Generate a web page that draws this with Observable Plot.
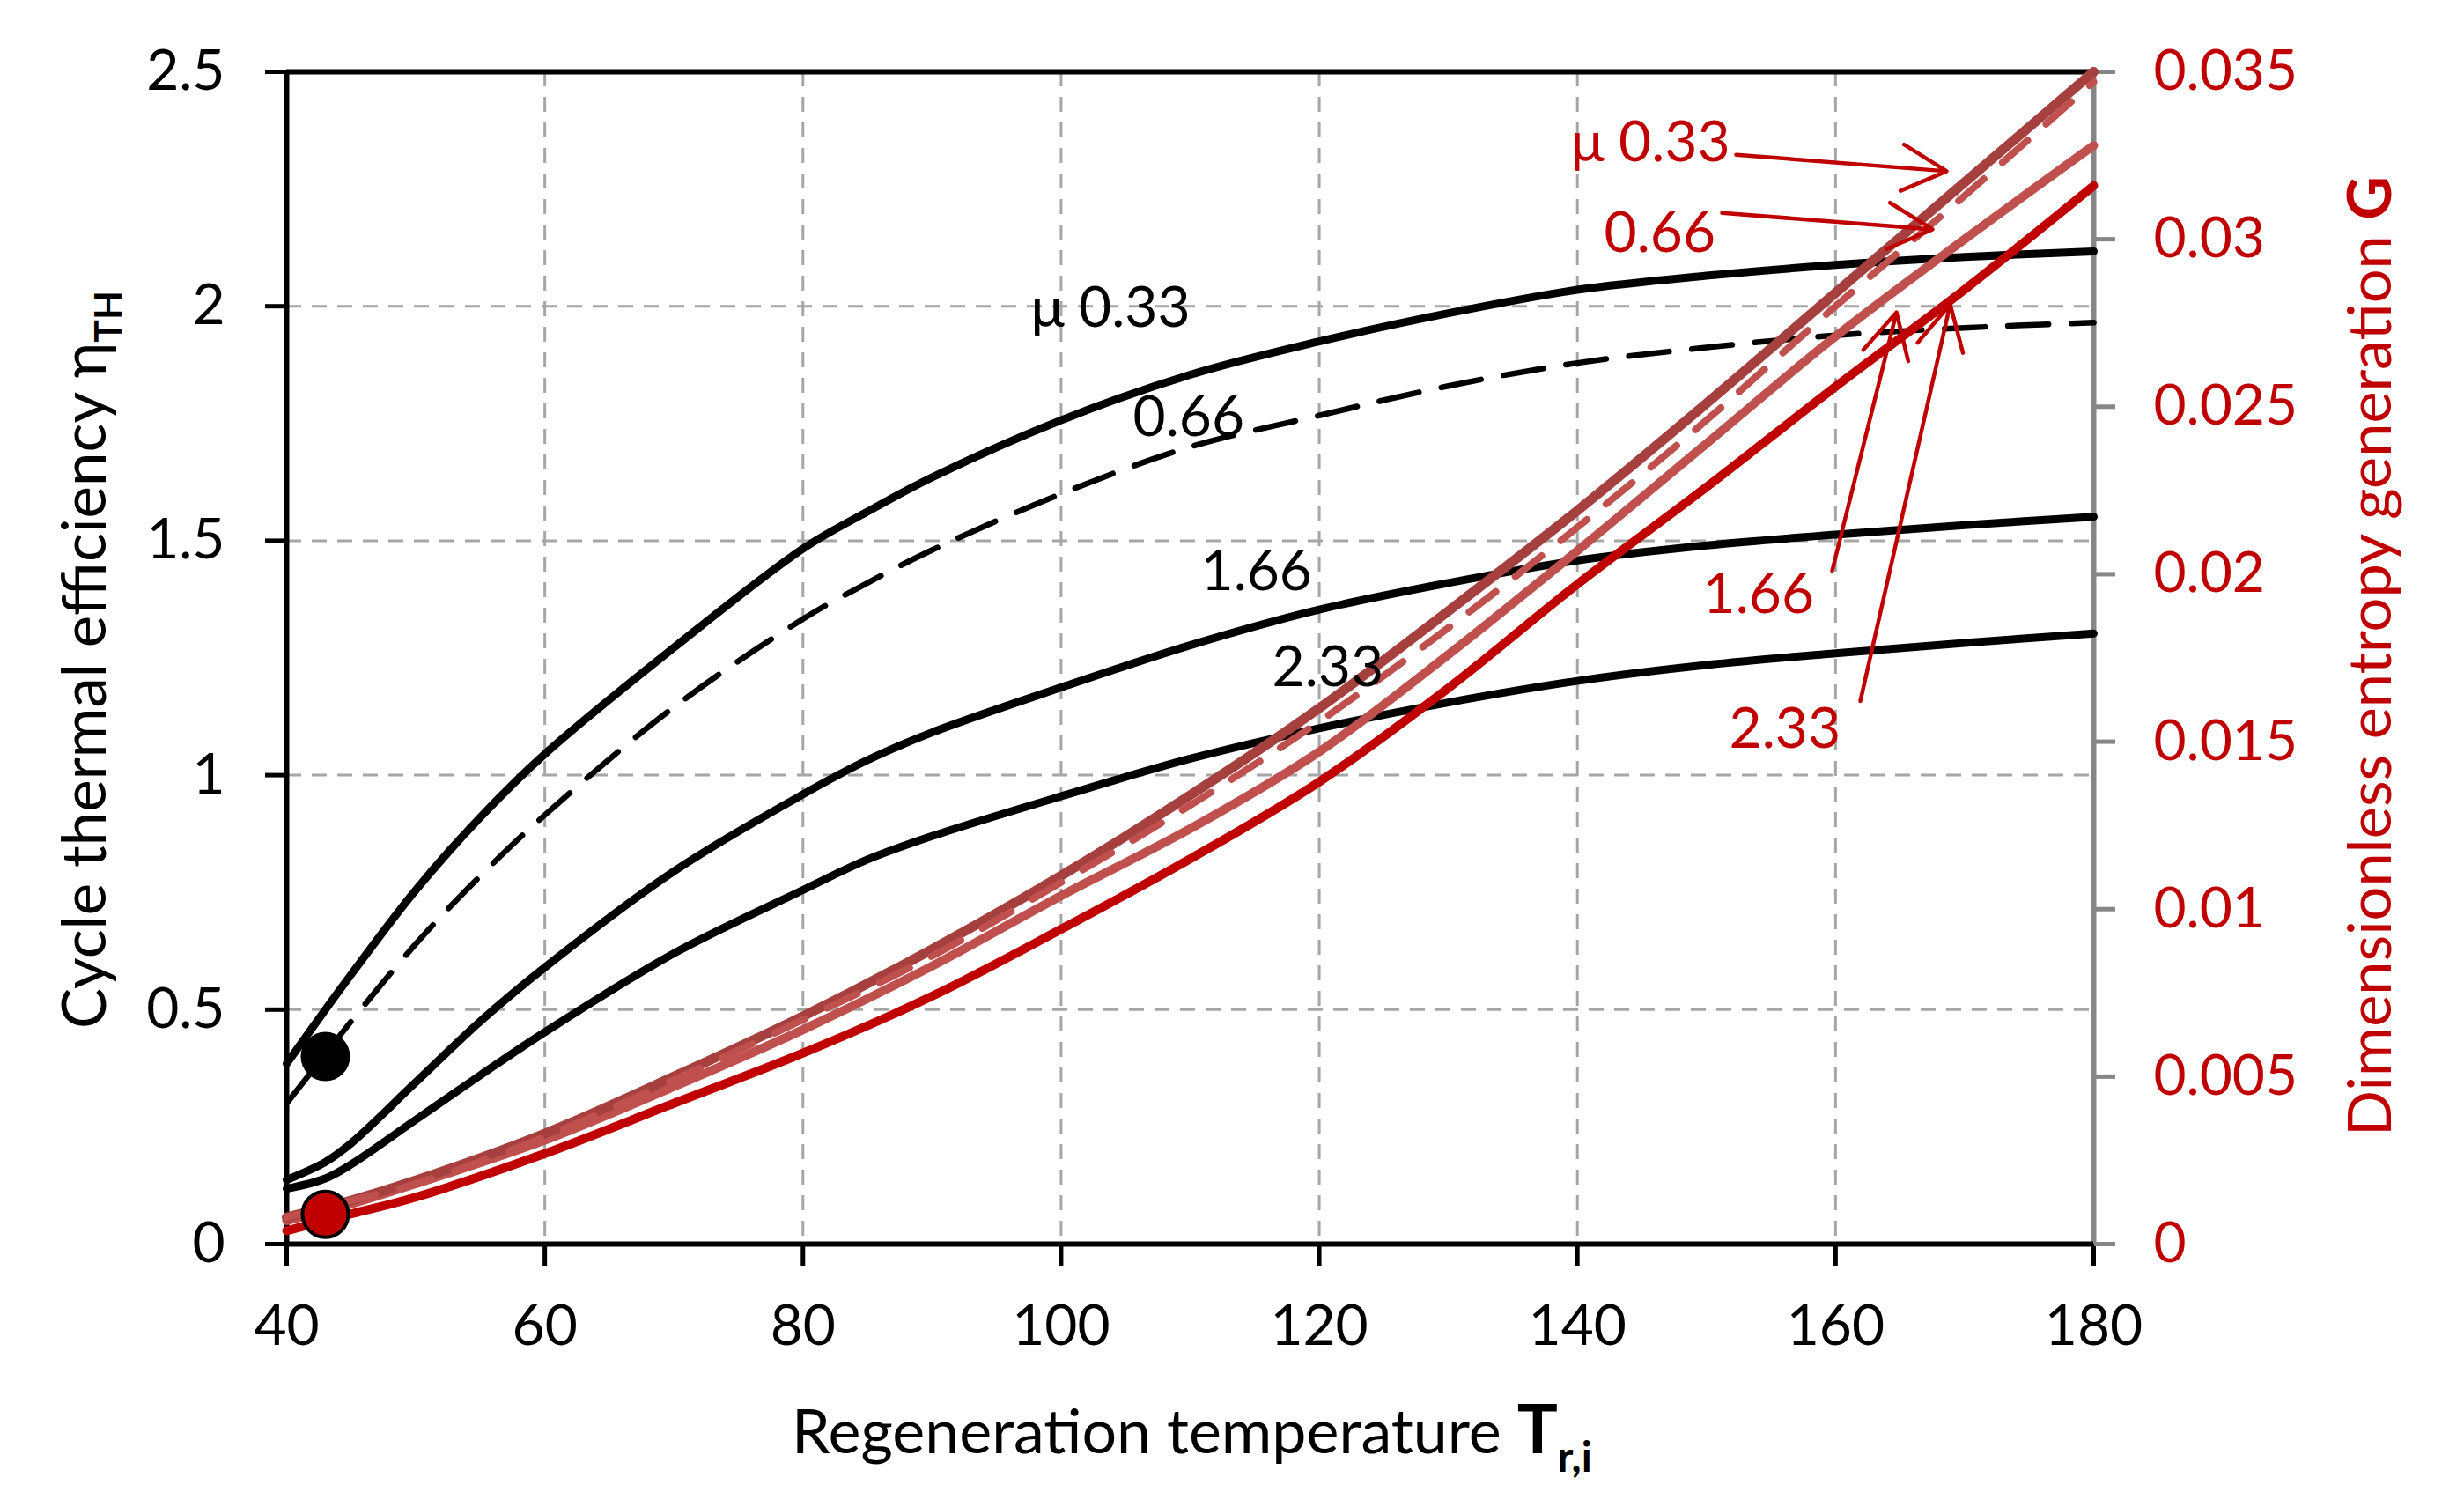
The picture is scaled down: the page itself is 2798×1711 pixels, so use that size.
<!DOCTYPE html>
<html>
<head>
<meta charset="utf-8">
<script src="https://cdn.jsdelivr.net/npm/d3@7"></script>
<script src="https://cdn.jsdelivr.net/npm/@observablehq/plot@0.6"></script>
<style>
  html, body { margin: 0; padding: 0; background: #fff; }
  #chart svg { display: block; }
</style>
</head>
<body>
<div id="chart"></div>
<script>
// ---------- data ----------
const xTicks = [40, 60, 80, 100, 120, 140, 160, 180];
const etaTicks = [0, 0.5, 1, 1.5, 2, 2.5];
const gTicks = [0, 0.005, 0.01, 0.015, 0.02, 0.025, 0.03, 0.035];
const gTickLabels = ["0", "0.005", "0.01", "0.015", "0.02", "0.025", "0.03", "0.035"];

// cycle thermal efficiency (left axis)
const blackT = [40, 43, 45, 50, 55, 60, 70, 80, 85, 90, 100, 110, 120, 130, 140, 150, 160, 170, 180];
const eta033 = [0.385, 0.50, 0.575, 0.755, 0.91, 1.045, 1.272, 1.483, 1.562, 1.635, 1.757, 1.854, 1.925, 1.985, 2.035, 2.065, 2.088, 2.105, 2.117];
const eta066 = [0.30, 0.405, 0.475, 0.64, 0.785, 0.915, 1.145, 1.333, 1.41, 1.48, 1.60, 1.70, 1.767, 1.83, 1.879, 1.912, 1.938, 1.954, 1.965];
const eta166 = [0.137, 0.175, 0.215, 0.345, 0.475, 0.59, 0.795, 0.959, 1.032, 1.091, 1.187, 1.277, 1.353, 1.41, 1.458, 1.49, 1.513, 1.533, 1.551];
const eta233 = [0.118, 0.14, 0.17, 0.265, 0.36, 0.452, 0.62, 0.755, 0.82, 0.87, 0.955, 1.035, 1.10, 1.155, 1.201, 1.235, 1.26, 1.282, 1.302];

// dimensionless entropy generation (right axis)
const redT = [40, 45, 50, 60, 70, 80, 90, 100, 110, 120, 130, 140, 150, 160, 170, 180];
const g033 = [0.0008, 0.0013, 0.0019, 0.0033, 0.0050, 0.0068, 0.0088, 0.0110, 0.0134, 0.0160, 0.0189, 0.0219, 0.0251, 0.0284, 0.0317, 0.0350];
const g066 = [0.0008, 0.0013, 0.0018, 0.0032, 0.0049, 0.0067, 0.0086, 0.0108, 0.0131, 0.0156, 0.0184, 0.0214, 0.0246, 0.0280, 0.0313, 0.0347];
const g166 = [0.0007, 0.0012, 0.0018, 0.0031, 0.0047, 0.0064, 0.0083, 0.0104, 0.0124, 0.0147, 0.0176, 0.0207, 0.0239, 0.0271, 0.0300, 0.0328];
const g233 = [0.0004, 0.0009, 0.0014, 0.0027, 0.0042, 0.0057, 0.0074, 0.0094, 0.0115, 0.0138, 0.0166, 0.0197, 0.0226, 0.0256, 0.0285, 0.0316];

// highlighted points
const blackDotT = [43], blackDotEta = [0.40];
const redDotT = [43], redDotG = [0.00089];

// in-plot labels
const labelText = ["μ 0.33", "0.66", "1.66", "2.33"];
const blackLabelT = [97.65, 105.57, 110.82, 116.35];
const blackLabelEta = [1.957, 1.724, 1.395, 1.190];
const redLabelT = [139.47, 142.07, 149.71, 151.76];
const redLabelEta = [2.310, 2.115, 1.346, 1.058];

// arrows for the red labels
const arrowFromT = [152.30, 151.21, 159.74, 161.92];
const arrowFromEta = [2.323, 2.199, 1.436, 1.158];
const arrowToT = [168.61, 167.52, 164.72, 168.88];
const arrowToEta = [2.288, 2.164, 1.987, 2.004];

// ---------- build ----------
const etaMax = 2.5, gMax = 0.035, k = etaMax / gMax;
const FONT = "Lato, 'Open Sans', 'DejaVu Sans', sans-serif";
const RED = "#c00000";

const rows = (T, V, f = 1) => T.map((t, i) => ({t, v: V[i] * f}));
const labels = (T, V) => T.map((t, i) => ({t, v: V[i], s: labelText[i]}));
const arrows = arrowFromT.map((t, i) => ({x1: t, y1: arrowFromEta[i], x2: arrowToT[i], y2: arrowToEta[i]}));

const grid = {stroke: "#a6a6a6", strokeOpacity: 1, strokeWidth: 3, strokeDasharray: "17,12"};

const chart = Plot.plot({
  width: 2798,
  height: 1711,
  marginLeft: 325,
  marginRight: 421,
  marginTop: 81,
  marginBottom: 299,
  style: {fontFamily: FONT, fontSize: "64px", background: "#fff", color: "#000"},
  x: {domain: [40, 180]},
  y: {domain: [0, etaMax]},
  marks: [
    Plot.gridX({ticks: xTicks.slice(1, -1), ...grid}),
    Plot.gridY({ticks: etaTicks.slice(1, -1), ...grid}),
    Plot.ruleX([180], {stroke: "#868686", strokeWidth: 6}),
    Plot.ruleY([etaMax], {stroke: "#000", strokeWidth: 6}),
    Plot.ruleY([0], {stroke: "#000", strokeWidth: 6}),
    Plot.ruleX([40], {stroke: "#000", strokeWidth: 6}),
    Plot.axisX({ticks: xTicks, tickFormat: d => String(d), tickSize: 25, tickPadding: 44, strokeWidth: 5, stroke: "#000", fill: "#000", fontSize: 64, label: null}),
    Plot.axisY({ticks: etaTicks, tickFormat: d => String(d), tickSize: 24, tickPadding: 46, strokeWidth: 5, stroke: "#000", fill: "#000", fontSize: 64, label: null}),
    Plot.axisY({anchor: "right", ticks: gTicks.map(g => g * k), tickFormat: (d, i) => gTickLabels[i], tickSize: 24, tickPadding: 44, strokeWidth: 5, stroke: "#868686", fill: RED, fontSize: 64, label: null}),
    // efficiency curves
    Plot.line(rows(blackT, eta033), {x: "t", y: "v", stroke: "#000", strokeWidth: 9, curve: "catmull-rom"}),
    Plot.line(rows(blackT, eta066), {x: "t", y: "v", stroke: "#000", strokeWidth: 6.5, strokeDasharray: "46,26", curve: "catmull-rom"}),
    Plot.line(rows(blackT, eta166), {x: "t", y: "v", stroke: "#000", strokeWidth: 9, curve: "catmull-rom"}),
    Plot.line(rows(blackT, eta233), {x: "t", y: "v", stroke: "#000", strokeWidth: 9, curve: "catmull-rom"}),
    // entropy generation curves (right axis, mapped into left scale)
    Plot.line(rows(redT, g233, k), {x: "t", y: "v", stroke: RED, strokeWidth: 10, curve: "catmull-rom"}),
    Plot.line(rows(redT, g166, k), {x: "t", y: "v", stroke: "#c0504d", strokeWidth: 10, curve: "catmull-rom"}),
    Plot.line(rows(redT, g033, k), {x: "t", y: "v", stroke: "#a5403e", strokeWidth: 11, curve: "catmull-rom"}),
    Plot.line(rows(redT, g066, k), {x: "t", y: "v", stroke: "#c0504d", strokeWidth: 8, strokeDasharray: "38,28", strokeLinecap: "round", curve: "catmull-rom"}),
    // points
    Plot.dot(rows(blackDotT, blackDotEta), {x: "t", y: "v", r: 28, fill: "#000"}),
    Plot.dot(rows(redDotT, redDotG, k), {x: "t", y: "v", r: 26, fill: RED, stroke: "#000", strokeWidth: 4}),
    // labels
    Plot.text(labels(blackLabelT, blackLabelEta), {x: "t", y: "v", text: "s", textAnchor: "start", lineAnchor: "bottom", fill: "#000", fontSize: 64}),
    Plot.text(labels(redLabelT, redLabelEta), {x: "t", y: "v", text: "s", textAnchor: "start", lineAnchor: "bottom", fill: RED, fontSize: 64}),
    Plot.arrow(arrows, {x1: "x1", y1: "y1", x2: "x2", y2: "y2", stroke: RED, strokeWidth: 4.5, headAngle: 55, headLength: 19})
  ]
});

document.getElementById("chart").appendChild(chart);

// ---------- axis titles (with sub-scripts) ----------
const svg = d3.select(chart);

function fit(sel, target) {
  const base = parseFloat(sel.attr("font-size"));
  const w = sel.node().getBBox().width;
  if (w > 0) sel.attr("font-size", base * target / w);
}

const xt = svg.append("text")
  .attr("x", 899).attr("y", 1650)
  .attr("text-anchor", "start")
  .attr("font-family", FONT).attr("font-size", 65).attr("fill", "#000");
xt.append("tspan").text("Regeneration temperature ");
xt.append("tspan").attr("font-weight", "bold").attr("font-size", "1.1em").text("T");
xt.append("tspan").attr("font-weight", "bold").attr("font-size", "0.68em").attr("dy", "0.45em").text("r,i");
fit(xt, 909);

const lt = svg.append("text")
  .attr("transform", "translate(120,749) rotate(-90)")
  .attr("text-anchor", "middle")
  .attr("font-family", FONT).attr("font-size", 62).attr("fill", "#000");
lt.append("tspan").text("Cycle thermal efficiency η");
lt.append("tspan").attr("font-weight", "bold").attr("font-size", "0.62em").attr("dy", "0.42em").text("TH");
fit(lt, 838);

const rt = svg.append("text")
  .attr("transform", "translate(2715,745) rotate(-90)")
  .attr("text-anchor", "middle")
  .attr("font-family", FONT).attr("font-size", 64).attr("fill", RED);
rt.append("tspan").text("Dimensionless entropy generation ");
rt.append("tspan").attr("font-weight", "bold").text("G");
fit(rt, 1090);
</script>
</body>
</html>
